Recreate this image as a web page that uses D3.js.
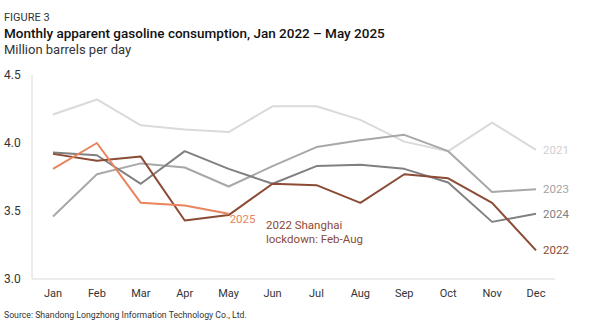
<!DOCTYPE html>
<html>
<head>
<meta charset="utf-8">
<script src="https://d3js.org/d3.v7.min.js"></script>
<style>
  body { margin: 0; background: #fff; font-family: Roboto, "Noto Sans", sans-serif; }
  svg text { font-family: Roboto, "Noto Sans", sans-serif; }
</style>
</head>
<body>
<svg id="chart" width="592" height="330"></svg>
<script>
// Data
const months = ["Jan", "Feb", "Mar", "Apr", "May", "Jun", "Jul", "Aug", "Sep", "Oct", "Nov", "Dec"];
const yTicks = [3.0, 3.5, 4.0, 4.5];

const values2021 = [4.21, 4.32, 4.13, 4.10, 4.08, 4.27, 4.27, 4.17, 4.01, 3.94, 4.15, 3.95];
const values2022 = [3.92, 3.87, 3.90, 3.43, 3.47, 3.70, 3.69, 3.56, 3.77, 3.74, 3.56, 3.21];
const values2023 = [3.46, 3.77, 3.85, 3.82, 3.68, 3.83, 3.97, 4.02, 4.06, 3.94, 3.64, 3.66];
const values2024 = [3.93, 3.91, 3.70, 3.94, 3.81, 3.70, 3.83, 3.84, 3.81, 3.71, 3.42, 3.48];
const values2025 = [3.81, 4.00, 3.56, 3.54, 3.48];

const series = [
  { name: "2021", values: values2021, color: "#dadada", label: "#cfcfcf" },
  { name: "2023", values: values2023, color: "#a8a8a8", label: "#a3a3a3" },
  { name: "2024", values: values2024, color: "#808080", label: "#808080" },
  { name: "2022", values: values2022, color: "#8b4b35", label: "#8b4b35" },
  { name: "2025", values: values2025, color: "#e8845e", label: "#e8845e" }
];

const svg = d3.select("#chart");

// Header
svg.append("text").attr("x", 4).attr("y", 21)
  .attr("font-size", 11).attr("fill", "#333").text("FIGURE 3");
svg.append("text").attr("x", 4).attr("y", 38)
  .attr("font-size", 13.5).attr("font-weight", 500).attr("fill", "#111")
  .text("Monthly apparent gasoline consumption, Jan 2022 \u2013 May 2025");
svg.append("text").attr("x", 4).attr("y", 54)
  .attr("font-size", 13).attr("fill", "#333").text("Million barrels per day");

// Scales
const x = d3.scalePoint().domain(months).range([53, 536]);
const y = d3.scaleLinear().domain([3.0, 4.5]).range([279, 75]);

// Axes lines
svg.append("line").attr("x1", 32).attr("x2", 32).attr("y1", 75).attr("y2", 279)
  .attr("stroke", "#d9d9d9").attr("stroke-width", 1);
svg.append("line").attr("x1", 32).attr("x2", 555).attr("y1", 279).attr("y2", 279)
  .attr("stroke", "#d9d9d9").attr("stroke-width", 1);

// Y tick labels
svg.append("g").selectAll("text").data(yTicks).join("text")
  .attr("x", 4).attr("y", d => y(d) + 4)
  .attr("font-size", 12).attr("fill", "#333")
  .text(d => d.toFixed(1));

// X tick labels
svg.append("g").selectAll("text").data(months).join("text")
  .attr("x", d => x(d)).attr("y", 297)
  .attr("text-anchor", "middle").attr("font-size", 11).attr("fill", "#333")
  .text(d => d);

// Lines
const line = d3.line()
  .x((d, i) => x(months[i]))
  .y(d => y(d));

svg.append("g").selectAll("path").data(series).join("path")
  .attr("d", d => line(d.values))
  .attr("fill", "none")
  .attr("stroke", d => d.color)
  .attr("stroke-width", 2)
  .attr("stroke-linejoin", "round");

// End labels
series.forEach(s => {
  const last = s.values.length - 1;
  svg.append("text")
    .attr("x", x(months[last]) + (s.name === "2025" ? 1 : 7))
    .attr("y", y(s.values[last]) + (s.name === "2025" ? 9 : 4))
    .attr("font-size", 11.5).attr("fill", s.label)
    .text(s.name);
});

// Annotation
const note = svg.append("text").attr("font-size", 11.5).attr("fill", "#8b4b35");
note.append("tspan").attr("x", 266).attr("y", 229).text("2022 Shanghai");
note.append("tspan").attr("x", 266).attr("y", 243).text("lockdown: Feb-Aug");

// Source
svg.append("text").attr("x", 4).attr("y", 318)
  .attr("font-size", 8.7).attr("fill", "#333")
  .text("Source: Shandong Longzhong Information Technology Co., Ltd.");
</script>
</body>
</html>
